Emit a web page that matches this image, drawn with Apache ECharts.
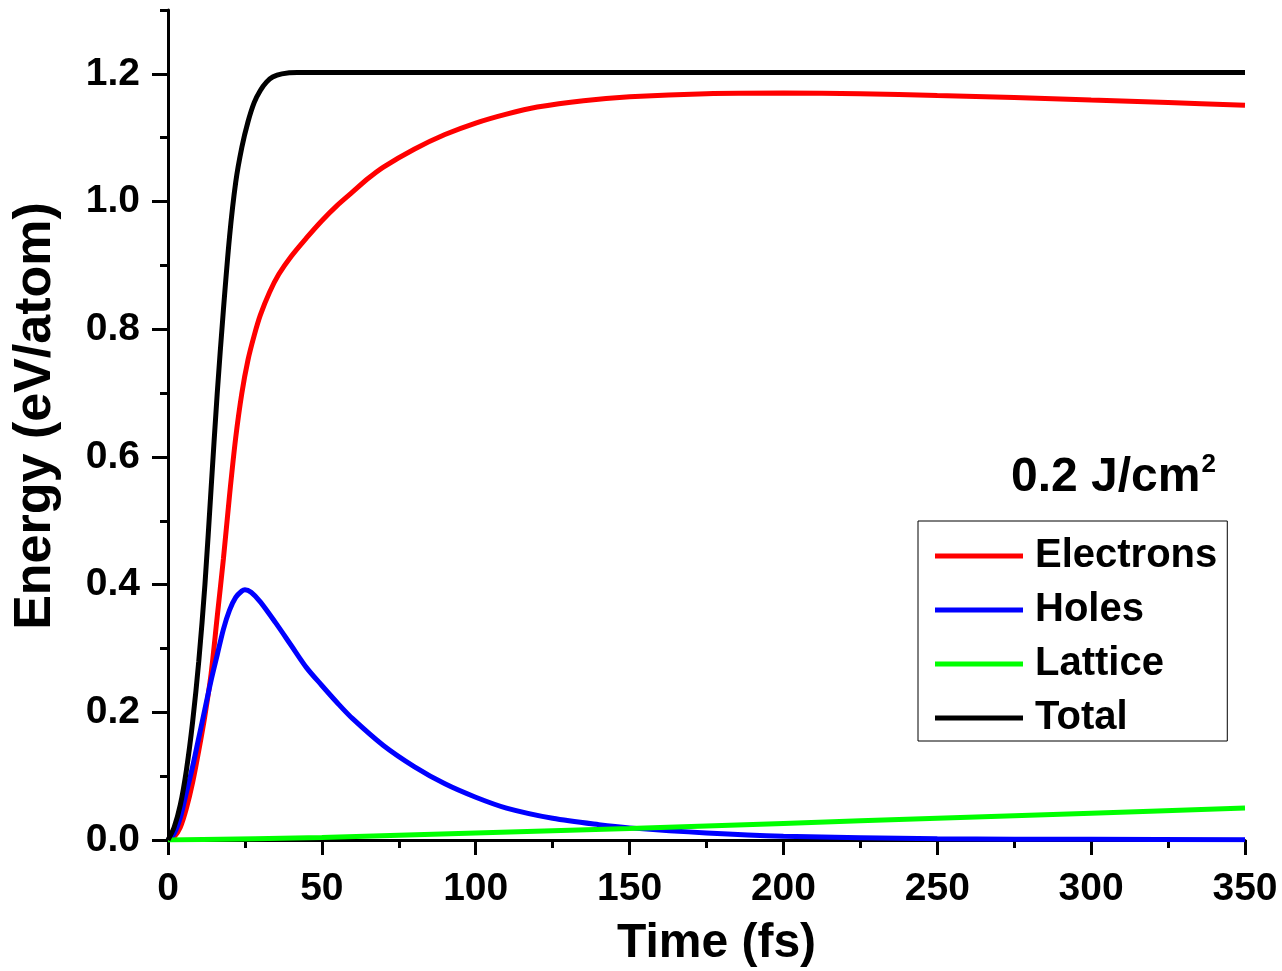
<!DOCTYPE html>
<html>
<head>
<meta charset="utf-8">
<script src="https://cdn.jsdelivr.net/npm/echarts@6/dist/echarts.min.js"></script>
<style>
html,body{margin:0;padding:0;background:#fff;}
#chart{width:1282px;height:971px;}
</style>
</head>
<body>
<div id="chart"></div>
<script>
// ---- data ----
const electronsT = [0, 2, 4, 6, 8, 10, 12, 14, 16, 18, 20, 22, 24, 26, 28, 30, 33, 36, 40, 45, 50, 55, 60, 65, 70, 80, 90, 100, 110, 120, 135, 150, 175, 200, 225, 250, 275, 300, 325, 350];
const electronsE = [0, 0.005, 0.02, 0.05, 0.09, 0.14, 0.195, 0.26, 0.35, 0.44, 0.54, 0.63, 0.70, 0.752, 0.79, 0.822, 0.858, 0.886, 0.914, 0.943, 0.97, 0.994, 1.015, 1.036, 1.054, 1.082, 1.105, 1.123, 1.137, 1.148, 1.158, 1.164, 1.169, 1.17, 1.169, 1.166, 1.163, 1.159, 1.155, 1.151];

const holesT = [0, 2, 4, 6, 8, 10, 12, 14, 16, 18, 20, 22, 24, 25, 27, 30, 35, 40, 45, 50, 55, 60, 70, 80, 90, 100, 110, 125, 140, 150, 175, 200, 250, 300, 350];
const holesE = [0, 0.01, 0.035, 0.075, 0.115, 0.16, 0.205, 0.25, 0.29, 0.33, 0.36, 0.38, 0.39, 0.392, 0.388, 0.373, 0.34, 0.305, 0.27, 0.242, 0.215, 0.19, 0.148, 0.115, 0.088, 0.067, 0.05, 0.034, 0.024, 0.019, 0.011, 0.006, 0.002, 0.001, 0.0005];

const latticeT = [0, 50, 100, 150, 200, 250, 300, 350];
const latticeE = [0, 0.004, 0.011, 0.018, 0.026, 0.034, 0.042, 0.05];

const totalT = [0, 2, 4, 6, 8, 10, 12, 14, 16, 18, 20, 22, 24, 26, 28, 30, 32, 34, 37, 42, 50, 100, 200, 300, 350];
const totalE = [0, 0.02, 0.055, 0.11, 0.185, 0.28, 0.40, 0.55, 0.70, 0.83, 0.945, 1.03, 1.085, 1.125, 1.155, 1.174, 1.187, 1.195, 1.2, 1.202, 1.202, 1.202, 1.202, 1.202, 1.202];

const seriesNames = ['Electrons', 'Holes', 'Lattice', 'Total'];
const seriesColors = ['#ff0000', '#0000ff', '#00ff00', '#000000'];

const xTicks = [0, 50, 100, 150, 200, 250, 300, 350];
const yMajorTicks = [0, 0.2, 0.4, 0.6, 0.8, 1.0, 1.2];
const yMinorTicks = [0.1, 0.3, 0.5, 0.7, 0.9, 1.1, 1.3];

const fluenceLabel = '0.2 J/cm';
const fluenceSup = '2';

// ---- chart ----
const FONT = "'Liberation Sans', Arial, sans-serif";
function pairs(t, e) { return t.map((v, i) => [v, e[i]]); }
const seriesData = [pairs(electronsT, electronsE), pairs(holesT, holesE), pairs(latticeT, latticeE), pairs(totalT, totalE)];

const chart = echarts.init(document.getElementById('chart'), null, {renderer: 'canvas'});
const option = {
  backgroundColor: '#ffffff',
  animation: false,
  textStyle: {fontFamily: FONT},
  title: {
    text: '{a|' + fluenceLabel + '}{b|' + fluenceSup + '}',
    left: 1011,
    top: 452,
    padding: 0,
    textStyle: {
      rich: {
        a: {fontFamily: FONT, fontSize: 48, fontWeight: 'bold', color: '#000', lineHeight: 52},
        b: {fontFamily: FONT, fontSize: 26, fontWeight: 'bold', color: '#000', lineHeight: 52, verticalAlign: 'top', padding: [0, 0, 30, 1]}
      }
    }
  },
  legend: {
    orient: 'vertical',
    left: 918,
    top: 521,
    padding: [13, 10, 1, 17],
    itemGap: 10,
    itemWidth: 88,
    itemHeight: 5,
    icon: 'rect',
    borderColor: '#000',
    borderWidth: 1,
    selectedMode: false,
    data: seriesNames,
    textStyle: {fontFamily: FONT, fontSize: 40, fontWeight: 'bold', color: '#000', lineHeight: 44, padding: [0, 0, 0, 7]}
  },
  grid: {left: 168, right: 37, top: 10, bottom: 131, containLabel: false, outerBoundsMode: 'none'},
  xAxis: {
    type: 'value',
    min: 0,
    max: 350,
    interval: 50,
    name: 'Time (fs)',
    nameLocation: 'middle',
    nameGap: 80,
    nameTextStyle: {fontFamily: FONT, fontSize: 48, fontWeight: 'bold', color: '#000', padding: [0, 0, 0, 20]},
    axisLine: {show: true, onZero: false, lineStyle: {color: '#000', width: 3}},
    axisTick: {show: true, length: 15, lineStyle: {color: '#000', width: 3}},
    minorTick: {show: true, splitNumber: 2, length: 8, lineStyle: {color: '#000', width: 3}},
    axisLabel: {fontFamily: FONT, fontSize: 39, fontWeight: 'bold', color: '#000', margin: 30, customValues: xTicks},
    splitLine: {show: false}
  },
  yAxis: [{
    type: 'value',
    min: 0,
    max: 1.3,
    interval: 0.1,
    name: 'Energy (eV/atom)',
    nameLocation: 'middle',
    nameGap: 106,
    nameTextStyle: {fontFamily: FONT, fontSize: 52, fontWeight: 'bold', color: '#000', padding: [0, 0, 0, 18]},
    axisLine: {show: true, onZero: false, lineStyle: {color: '#000', width: 3}},
    axisTick: {show: true, length: 16, customValues: yMajorTicks, lineStyle: {color: '#000', width: 3}},
    axisLabel: {fontFamily: FONT, fontSize: 39, fontWeight: 'bold', color: '#000', margin: 28, customValues: yMajorTicks,
      formatter: v => v.toFixed(1)},
    splitLine: {show: false}
  }, {
    type: 'value',
    min: 0,
    max: 1.3,
    interval: 0.1,
    position: 'left',
    offset: 0,
    axisLine: {show: false},
    axisTick: {show: true, length: 8, customValues: yMinorTicks, lineStyle: {color: '#000', width: 3}},
    axisLabel: {show: false},
    splitLine: {show: false}
  }],
  series: seriesNames.map((name, i) => ({
    name: name,
    type: 'line',
    data: seriesData[i],
    xAxisIndex: 0,
    yAxisIndex: 0,
    showSymbol: false,
    symbol: 'none',
    smooth: 0.3,
    lineStyle: {color: seriesColors[i], width: 5},
    itemStyle: {color: seriesColors[i]},
    z: 2 + i
  }))
};
chart.setOption(option);
</script>
</body>
</html>
